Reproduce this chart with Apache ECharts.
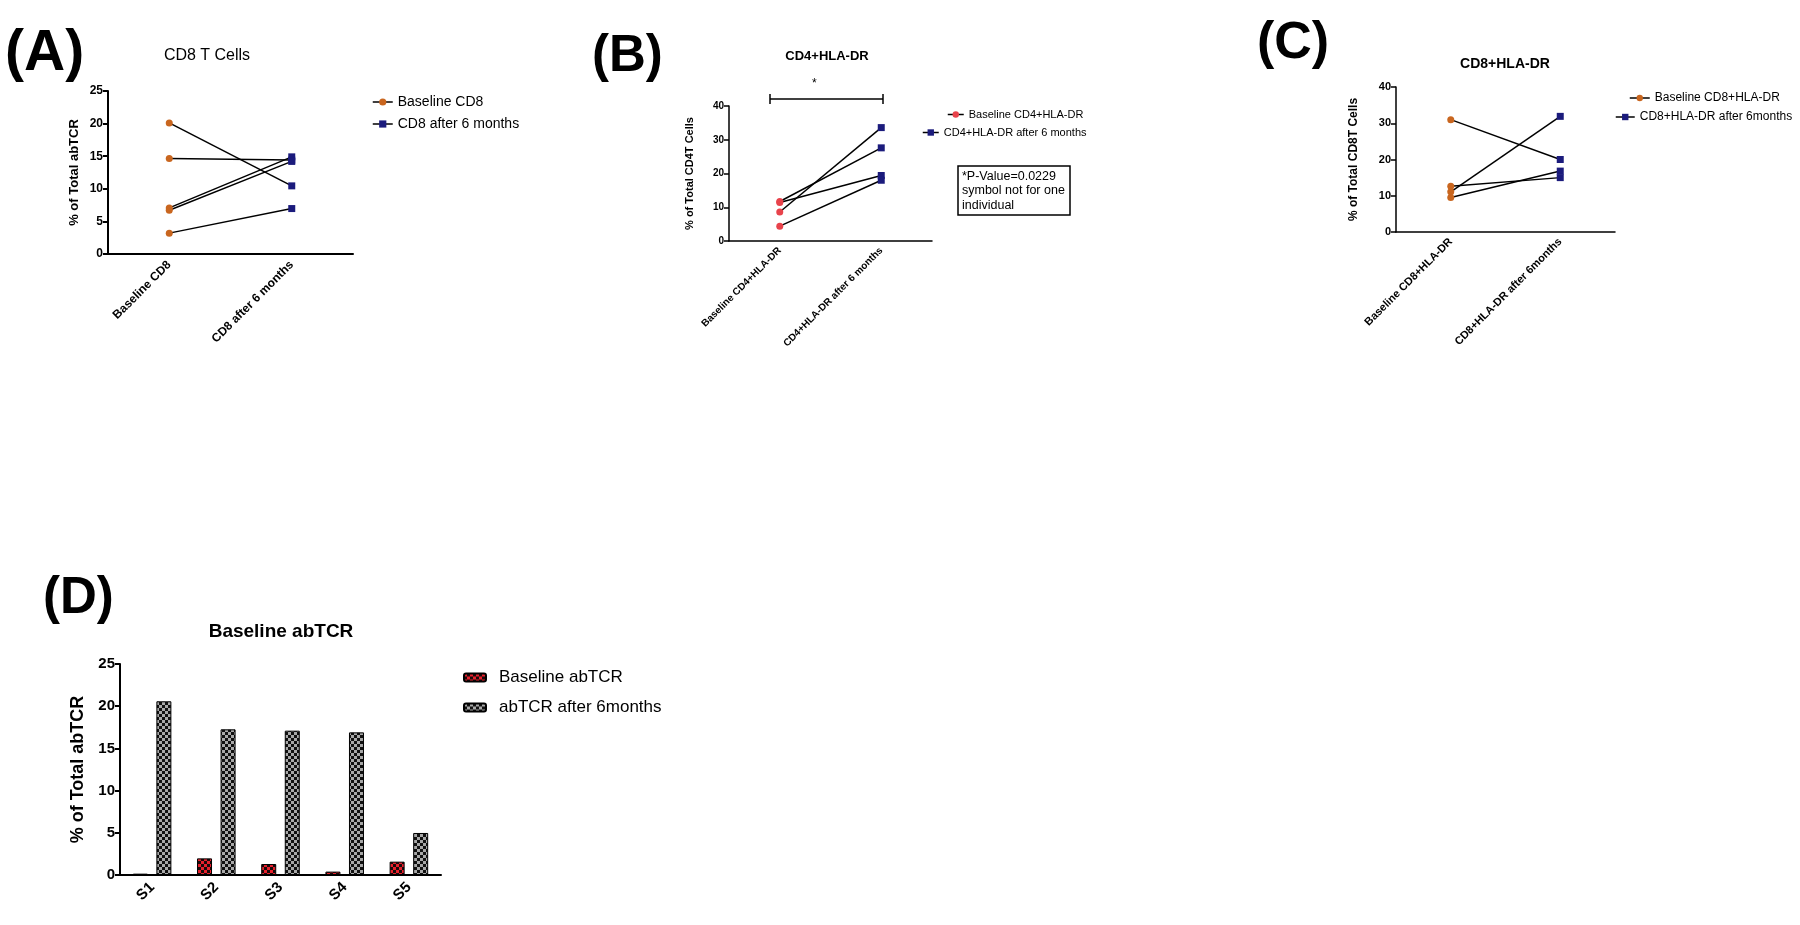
<!DOCTYPE html>
<html>
<head>
<meta charset="utf-8">
<script src="https://cdn.jsdelivr.net/npm/echarts@6/dist/echarts.min.js"></script>
<style>
  html, body { margin: 0; padding: 0; background: #fff; }
  #chart { width: 1800px; height: 925px; }
</style>
</head>
<body>
<div id="chart"></div>
<script>
// (A) CD8 T Cells
const catsA = ["Baseline CD8", "CD8 after 6 months"];
const baseA = [20.1, 14.65, 7.07, 6.7, 3.2];
const afterA = [10.45, 14.4, 14.9, 14.2, 6.97];
// (B) CD4+HLA-DR
const catsB = ["Baseline CD4+HLA-DR", "CD4+HLA-DR after 6 months"];
const baseB = [8.6, 11.7, 11.4, 4.4];
const afterB = [33.6, 27.6, 19.4, 18.0];
// (C) CD8+HLA-DR
const catsC = ["Baseline CD8+HLA-DR", "CD8+HLA-DR after 6months"];
const baseC = [31.0, 11.1, 12.6, 9.5];
const afterC = [20.0, 31.9, 15.0, 16.8];
// (D) abTCR per subject
const catsD = ["S1", "S2", "S3", "S4", "S5"];
const baseD = [0.16, 1.97, 1.3, 0.4, 1.58];
const afterD = [20.58, 17.26, 17.1, 16.9, 4.98];

const FONT = '"Liberation Sans", Arial, sans-serif';
const NAVY = "#1b1b7c";

// 棋盘格填充
function checker(c1, c2, n) {
  const cv = document.createElement("canvas");
  cv.width = n * 2; cv.height = n * 2;
  const g = cv.getContext("2d");
  g.fillStyle = c2; g.fillRect(0, 0, n * 2, n * 2);
  g.fillStyle = c1;
  g.fillRect(0, 0, n, n);
  g.fillRect(n, n, n, n);
  return { image: cv, repeat: "repeat" };
}

function xAx(idx, cats, fs, lw, margin) {
  return {
    type: "category", gridIndex: idx, data: cats,
    axisLine: { lineStyle: { color: "#000", width: lw } },
    axisTick: { alignWithLabel: true, length: 5, lineStyle: { color: "#000", width: lw } },
    axisLabel: { rotate: 45, interval: 0, color: "#000", fontWeight: "bold", fontSize: fs, fontFamily: FONT, margin: margin },
  };
}
function yAx(idx, max, step, name, fs, nfs, gap, lw) {
  return {
    type: "value", gridIndex: idx, min: 0, max: max, interval: step,
    name: name, nameLocation: "middle", nameGap: gap,
    nameTextStyle: { color: "#000", fontWeight: "bold", fontSize: nfs, fontFamily: FONT },
    axisLine: { show: true, lineStyle: { color: "#000", width: lw } },
    axisTick: { show: true, length: 5, lineStyle: { color: "#000", width: lw } },
    axisLabel: { color: "#000", fontWeight: "bold", fontSize: fs, fontFamily: FONT, margin: 5 },
    splitLine: { show: false },
  };
}
// 配对折线 + 两组标记
function pairSeries(idx, cats, base, after, names, baseColor) {
  const s = [];
  base.forEach((b, i) => {
    s.push({
      type: "line", xAxisIndex: idx, yAxisIndex: idx, data: [b, after[i]],
      symbol: "none", silent: true, z: 2,
      lineStyle: { color: "#000", width: 1.5 },
    });
  });
  s.push({
    name: names[0], type: "line", xAxisIndex: idx, yAxisIndex: idx, z: 3,
    data: base.map(v => [cats[0], v]),
    symbol: "circle", symbolSize: 7, itemStyle: { color: baseColor },
    lineStyle: { width: 0 },
  });
  s.push({
    name: names[1], type: "line", xAxisIndex: idx, yAxisIndex: idx, z: 3,
    data: after.map(v => [cats[1], v]),
    symbol: "rect", symbolSize: 7, itemStyle: { color: NAVY },
    lineStyle: { width: 0 },
  });
  return s;
}
function leg(name, left, top, fs, w, h) {
  return {
    data: [name], left: left, top: top, padding: 0,
    itemWidth: w, itemHeight: h, selectedMode: false,
    lineStyle: { color: "#000", width: 1.5, opacity: 1 },
    textStyle: { color: "#000", fontSize: fs, fontFamily: FONT },
  };
}
function ttl(text, x, top, fs, bold) {
  return {
    text: text, left: x, top: top, textAlign: "center", padding: 0,
    textStyle: { color: "#000", fontSize: fs, fontWeight: bold ? "bold" : "normal", fontFamily: FONT },
  };
}
function letter(text, x, top, fs) {
  return {
    type: "text", left: x, top: top,
    style: { text: text, fill: "#000", fontSize: fs, fontWeight: "bold", fontFamily: FONT },
  };
}

const chart = echarts.init(document.getElementById("chart"));

const series = []
  .concat(pairSeries(0, catsA, baseA, afterA, ["Baseline CD8", "CD8 after 6 months"], "#c9661f"))
  .concat(pairSeries(1, catsB, baseB, afterB, ["Baseline CD4+HLA-DR", "CD4+HLA-DR after 6 months"], "#e8434b"))
  .concat(pairSeries(2, catsC, baseC, afterC, ["Baseline CD8+HLA-DR", "CD8+HLA-DR after 6months"], "#c9661f"));

series.push({
  name: "Baseline abTCR", type: "bar", xAxisIndex: 3, yAxisIndex: 3,
  data: baseD, barWidth: 15, barGap: "57%",
  itemStyle: { color: checker("#e8202c", "#1a0a0a", 3), borderColor: "#000", borderWidth: 1 },
});
series.push({
  name: "abTCR after 6months", type: "bar", xAxisIndex: 3, yAxisIndex: 3,
  data: afterD, barWidth: 15, barGap: "57%",
  itemStyle: { color: checker("#a8a8a8", "#111", 3), borderColor: "#000", borderWidth: 1 },
});

const legD = { color: "#000", fontSize: 17, fontFamily: FONT, padding: [0, 0, 0, 8] };

chart.setOption({
  animation: false,
  backgroundColor: "#fff",
  title: [
    ttl("CD8 T Cells", 207, 48, 16, false),
    ttl("CD4+HLA-DR", 827, 50, 13, true),
    ttl("CD8+HLA-DR", 1505, 57, 14, true),
    ttl("Baseline abTCR", 281, 622, 19, true),
  ],
  legend: [
    leg("Baseline CD8", 372, 95, 14, 20, 9),
    leg("CD8 after 6 months", 372, 117, 14, 20, 9),
    leg("Baseline CD4+HLA-DR", 947, 109, 11, 16, 8),
    leg("CD4+HLA-DR after 6 months", 922, 127, 11, 16, 8),
    leg("Baseline CD8+HLA-DR", 1629, 92, 12, 20, 8),
    leg("CD8+HLA-DR after 6months", 1615, 111, 12, 19, 8),
    Object.assign(leg("Baseline abTCR", 463, 669, 17, 22, 8), { textStyle: legD }),
    Object.assign(leg("abTCR after 6months", 463, 699, 17, 22, 8), { textStyle: legD }),
  ],
  grid: [
    { left: 108, top: 91, width: 245, height: 163 },
    { left: 729, top: 106, width: 203, height: 135 },
    { left: 1396, top: 87, width: 219, height: 145 },
    { left: 120, top: 664, width: 321, height: 211 },
  ],
  xAxis: [
    xAx(0, catsA, 12, 2, 9),
    xAx(1, catsB, 10, 1.5, 8),
    xAx(2, catsC, 11, 1.5, 8),
    xAx(3, catsD, 15, 2, 10),
  ],
  yAxis: [
    yAx(0, 25, 5, "% of Total abTCR", 12, 13, 27, 2),
    yAx(1, 40, 10, "% of Total CD4T Cells", 10, 11, 34, 1.5),
    yAx(2, 40, 10, "% of Total CD8T Cells", 11, 12, 36, 1.5),
    yAx(3, 25, 5, "% of Total abTCR", 15, 18, 33, 2),
  ],
  graphic: [
    letter("(A)", 5, 26, 57),
    letter("(B)", 592, 31, 51),
    letter("(C)", 1257, 18, 52),
    letter("(D)", 43, 573, 51),
    // 显著性标注
    { type: "line", shape: { x1: 770, y1: 99, x2: 883, y2: 99 }, style: { stroke: "#000", lineWidth: 1.5 } },
    { type: "line", shape: { x1: 770, y1: 94, x2: 770, y2: 104 }, style: { stroke: "#000", lineWidth: 1.5 } },
    { type: "line", shape: { x1: 883, y1: 94, x2: 883, y2: 104 }, style: { stroke: "#000", lineWidth: 1.5 } },
    { type: "text", left: 812, top: 78, style: { text: "*", fill: "#000", fontSize: 12, fontFamily: FONT } },
    // P 值说明框
    { type: "rect", shape: { x: 958, y: 166, width: 112, height: 49 }, style: { fill: "#fff", stroke: "#000", lineWidth: 1.5 } },
    {
      type: "text", left: 962, top: 169,
      style: { text: "*P-Value=0.0229\nsymbol not for one\nindividual", fill: "#000", fontSize: 12.5, lineHeight: 14.5, fontFamily: FONT },
    },
  ],
  series: series,
});
</script>
</body>
</html>
